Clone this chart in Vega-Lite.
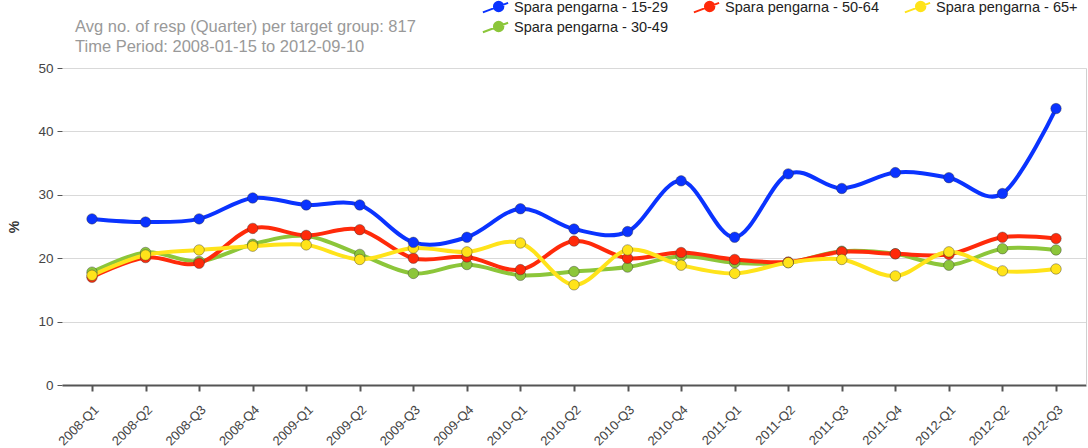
{
  "$schema": "https://vega.github.io/schema/vega-lite/v6.json",
  "width": 1024,
  "height": 317,
  "autosize": {"type": "none"},
  "padding": {"left": 62, "top": 68, "right": 2, "bottom": 63},
  "background": "#ffffff",
  "title": {
    "text": ["Avg no. of resp (Quarter) per target group: 817", "Time Period: 2008-01-15 to 2012-09-10"],
    "anchor": "start",
    "frame": "group",
    "dx": 13,
    "offset": -59,
    "font": "Liberation Sans",
    "fontSize": 16.5,
    "fontWeight": "normal",
    "color": "#999999",
    "lineHeight": 20
  },
  "config": {
    "view": {"stroke": null},
    "font": "Liberation Sans"
  },
  "resolve": {"axis": {"y": "independent"}},
  "data": {
    "values": [
      {"q": "2008-Q1", "g": "Spara pengarna - 30-49", "v": 17.8},
      {"q": "2008-Q2", "g": "Spara pengarna - 30-49", "v": 20.9},
      {"q": "2008-Q3", "g": "Spara pengarna - 30-49", "v": 19.5},
      {"q": "2008-Q4", "g": "Spara pengarna - 30-49", "v": 22.2},
      {"q": "2009-Q1", "g": "Spara pengarna - 30-49", "v": 23.5},
      {"q": "2009-Q2", "g": "Spara pengarna - 30-49", "v": 20.6},
      {"q": "2009-Q3", "g": "Spara pengarna - 30-49", "v": 17.6},
      {"q": "2009-Q4", "g": "Spara pengarna - 30-49", "v": 19.0},
      {"q": "2010-Q1", "g": "Spara pengarna - 30-49", "v": 17.3},
      {"q": "2010-Q2", "g": "Spara pengarna - 30-49", "v": 17.9},
      {"q": "2010-Q3", "g": "Spara pengarna - 30-49", "v": 18.6},
      {"q": "2010-Q4", "g": "Spara pengarna - 30-49", "v": 20.3},
      {"q": "2011-Q1", "g": "Spara pengarna - 30-49", "v": 19.3},
      {"q": "2011-Q2", "g": "Spara pengarna - 30-49", "v": 19.3},
      {"q": "2011-Q3", "g": "Spara pengarna - 30-49", "v": 21.1},
      {"q": "2011-Q4", "g": "Spara pengarna - 30-49", "v": 20.7},
      {"q": "2012-Q1", "g": "Spara pengarna - 30-49", "v": 18.9},
      {"q": "2012-Q2", "g": "Spara pengarna - 30-49", "v": 21.5},
      {"q": "2012-Q3", "g": "Spara pengarna - 30-49", "v": 21.3},
      {"q": "2008-Q1", "g": "Spara pengarna - 50-64", "v": 17.0},
      {"q": "2008-Q2", "g": "Spara pengarna - 50-64", "v": 20.1},
      {"q": "2008-Q3", "g": "Spara pengarna - 50-64", "v": 19.2},
      {"q": "2008-Q4", "g": "Spara pengarna - 50-64", "v": 24.7},
      {"q": "2009-Q1", "g": "Spara pengarna - 50-64", "v": 23.6},
      {"q": "2009-Q2", "g": "Spara pengarna - 50-64", "v": 24.5},
      {"q": "2009-Q3", "g": "Spara pengarna - 50-64", "v": 20.0},
      {"q": "2009-Q4", "g": "Spara pengarna - 50-64", "v": 20.2},
      {"q": "2010-Q1", "g": "Spara pengarna - 50-64", "v": 18.2},
      {"q": "2010-Q2", "g": "Spara pengarna - 50-64", "v": 22.7},
      {"q": "2010-Q3", "g": "Spara pengarna - 50-64", "v": 20.0},
      {"q": "2010-Q4", "g": "Spara pengarna - 50-64", "v": 20.9},
      {"q": "2011-Q1", "g": "Spara pengarna - 50-64", "v": 19.8},
      {"q": "2011-Q2", "g": "Spara pengarna - 50-64", "v": 19.4},
      {"q": "2011-Q3", "g": "Spara pengarna - 50-64", "v": 21.0},
      {"q": "2011-Q4", "g": "Spara pengarna - 50-64", "v": 20.7},
      {"q": "2012-Q1", "g": "Spara pengarna - 50-64", "v": 20.6},
      {"q": "2012-Q2", "g": "Spara pengarna - 50-64", "v": 23.3},
      {"q": "2012-Q3", "g": "Spara pengarna - 50-64", "v": 23.1},
      {"q": "2008-Q1", "g": "Spara pengarna - 65+", "v": 17.3},
      {"q": "2008-Q2", "g": "Spara pengarna - 65+", "v": 20.5},
      {"q": "2008-Q3", "g": "Spara pengarna - 65+", "v": 21.3},
      {"q": "2008-Q4", "g": "Spara pengarna - 65+", "v": 21.9},
      {"q": "2009-Q1", "g": "Spara pengarna - 65+", "v": 22.1},
      {"q": "2009-Q2", "g": "Spara pengarna - 65+", "v": 19.8},
      {"q": "2009-Q3", "g": "Spara pengarna - 65+", "v": 21.6},
      {"q": "2009-Q4", "g": "Spara pengarna - 65+", "v": 21.0},
      {"q": "2010-Q1", "g": "Spara pengarna - 65+", "v": 22.4},
      {"q": "2010-Q2", "g": "Spara pengarna - 65+", "v": 15.8},
      {"q": "2010-Q3", "g": "Spara pengarna - 65+", "v": 21.3},
      {"q": "2010-Q4", "g": "Spara pengarna - 65+", "v": 18.9},
      {"q": "2011-Q1", "g": "Spara pengarna - 65+", "v": 17.6},
      {"q": "2011-Q2", "g": "Spara pengarna - 65+", "v": 19.3},
      {"q": "2011-Q3", "g": "Spara pengarna - 65+", "v": 19.8},
      {"q": "2011-Q4", "g": "Spara pengarna - 65+", "v": 17.2},
      {"q": "2012-Q1", "g": "Spara pengarna - 65+", "v": 21.0},
      {"q": "2012-Q2", "g": "Spara pengarna - 65+", "v": 18.0},
      {"q": "2012-Q3", "g": "Spara pengarna - 65+", "v": 18.3},
      {"q": "2008-Q1", "g": "Spara pengarna - 15-29", "v": 26.2},
      {"q": "2008-Q2", "g": "Spara pengarna - 15-29", "v": 25.7},
      {"q": "2008-Q3", "g": "Spara pengarna - 15-29", "v": 26.2},
      {"q": "2008-Q4", "g": "Spara pengarna - 15-29", "v": 29.5},
      {"q": "2009-Q1", "g": "Spara pengarna - 15-29", "v": 28.4},
      {"q": "2009-Q2", "g": "Spara pengarna - 15-29", "v": 28.4},
      {"q": "2009-Q3", "g": "Spara pengarna - 15-29", "v": 22.5},
      {"q": "2009-Q4", "g": "Spara pengarna - 15-29", "v": 23.3},
      {"q": "2010-Q1", "g": "Spara pengarna - 15-29", "v": 27.8},
      {"q": "2010-Q2", "g": "Spara pengarna - 15-29", "v": 24.6},
      {"q": "2010-Q3", "g": "Spara pengarna - 15-29", "v": 24.2},
      {"q": "2010-Q4", "g": "Spara pengarna - 15-29", "v": 32.2},
      {"q": "2011-Q1", "g": "Spara pengarna - 15-29", "v": 23.3},
      {"q": "2011-Q2", "g": "Spara pengarna - 15-29", "v": 33.3},
      {"q": "2011-Q3", "g": "Spara pengarna - 15-29", "v": 31.0},
      {"q": "2011-Q4", "g": "Spara pengarna - 15-29", "v": 33.5},
      {"q": "2012-Q1", "g": "Spara pengarna - 15-29", "v": 32.7},
      {"q": "2012-Q2", "g": "Spara pengarna - 15-29", "v": 30.2},
      {"q": "2012-Q3", "g": "Spara pengarna - 15-29", "v": 43.6}
    ]
  },
  "encoding": {
    "x": {
      "field": "q",
      "type": "ordinal",
      "sort": null,
      "scale": {"type": "point", "padding": 0.56},
      "axis": {
        "title": null,
        "labelAngle": -45,
        "labelFontSize": 13,
        "labelColor": "#444444",
        "labelPadding": 12,
        "domainColor": "#555555",
        "domainWidth": 2,
        "tickColor": "#555555",
        "tickWidth": 2,
        "tickSize": 6,
        "grid": false
      }
    },
    "color": {
      "field": "g",
      "type": "nominal",
      "scale": {
        "domain": ["Spara pengarna - 15-29", "Spara pengarna - 50-64", "Spara pengarna - 65+", "Spara pengarna - 30-49"],
        "range": ["#0a33ff", "#ff2a0a", "#ffe31a", "#8cc63a"]
      },
      "legend": {
        "title": null,
        "orient": "none",
        "legendX": 422,
        "legendY": -71.5,
        "direction": "horizontal",
        "columns": 3,
        "columnPadding": 21,
        "rowPadding": 0,
        "labelFontSize": 14.5,
        "labelColor": "#222222",
        "labelOffset": 7,
        "symbolType": "M-1.2,0.4L1.2,-0.5M0.75,-0.15A0.45,0.45 0 1,1 -0.15,-0.15A0.45,0.45 0 1,1 0.75,-0.15Z",
        "symbolSize": 441,
        "symbolStrokeWidth": 2,
        "symbolOpacity": 1
      }
    }
  },
  "layer": [
    {
      "mark": {"type": "line", "interpolate": "cardinal", "strokeWidth": 4},
      "encoding": {
        "y": {
          "field": "v",
          "type": "quantitative",
          "scale": {"domain": [0, 50], "nice": false},
          "axis": {
            "title": "%",
            "titleFontSize": 14,
            "titleFontWeight": "bold",
            "titleColor": "#333333",
            "titlePadding": 16,
            "values": [0, 10, 20, 30, 40, 50],
            "labelFontSize": 13.5,
            "labelColor": "#444444",
            "labelPadding": 4,
            "domain": false,
            "tickColor": "#555555",
            "tickSize": 5,
            "tickWidth": 1,
            "gridColor": "#d9d9d9",
            "gridWidth": 1
          }
        }
      }
    },
    {
      "mark": {"type": "point", "filled": true, "size": 110, "opacity": 1, "stroke": "#333333", "strokeOpacity": 0.4, "strokeWidth": 1},
      "encoding": {
        "y": {
          "field": "v",
          "type": "quantitative",
          "scale": {"domain": [0, 50], "nice": false},
          "axis": {
            "orient": "right",
            "title": null,
            "labels": false,
            "ticks": false,
            "grid": false,
            "domain": true,
            "domainColor": "#d0d0d0",
            "domainWidth": 1
          }
        }
      }
    }
  ]
}
